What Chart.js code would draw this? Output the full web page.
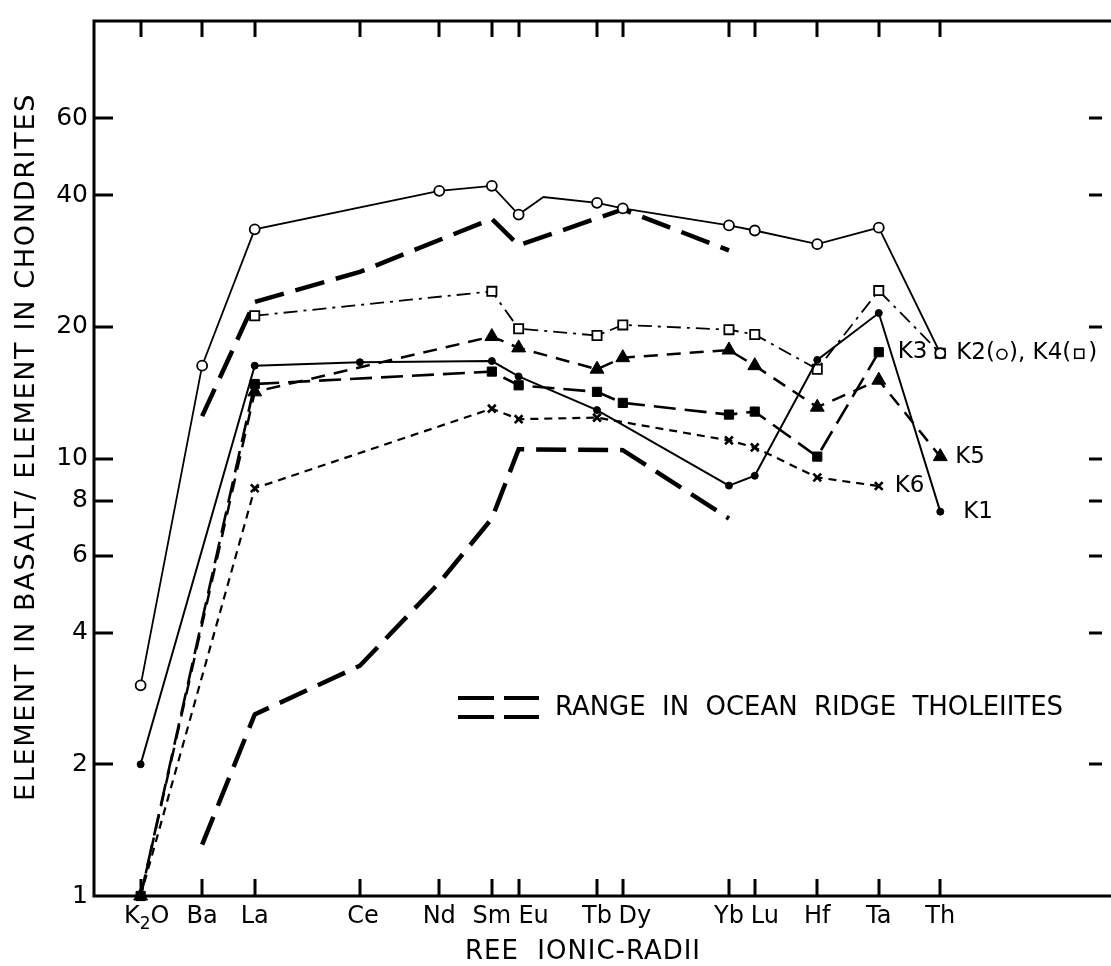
<!DOCTYPE html>
<html>
<head>
<meta charset="utf-8">
<title>REE ionic radii</title>
<script src="https://cdn.jsdelivr.net/npm/chart.js@4.4.0/dist/chart.umd.min.js"></script>
<style>
html, body { margin: 0; padding: 0; background: #fff; }
#grafik { display: block; }
</style>
</head>
<body>
<canvas id="grafik" width="1111" height="966"></canvas>
<script>
// elements in ionic-radius order and their place along the x axis
const elements = ['K2O', 'Ba', 'La', 'Ce', 'Nd', 'Sm', 'Eu', 'Gd', 'Tb', 'Dy', 'Yb', 'Lu', 'Hf', 'Ta', 'Th'];
const positions = [4.7, 10.9, 16.2, 26.8, 34.8, 40.1, 42.8, 45.3, 50.7, 53.3, 64.0, 66.6, 72.9, 79.1, 85.3];
const tickedElements = ['K2O', 'Ba', 'La', 'Ce', 'Nd', 'Sm', 'Eu', 'Tb', 'Dy', 'Yb', 'Lu', 'Hf', 'Ta', 'Th'];
const yTicks = [1, 2, 4, 6, 8, 10, 20, 40, 60];

// basalt / chondrite ratios, one slot per element (null = not measured)
const k1 = [2.0, null, 16.3, 16.6, null, 16.7, 15.4, null, 12.9, null, 8.67, 9.13, 16.8, 21.5, 7.56];
const k2 = [3.03, 16.3, 33.4, null, 40.9, 42.0, 36.1, 39.6, 38.4, 37.3, 34.1, 33.2, 30.9, 33.7, 17.4];
const k3 = [1.0, null, 14.8, null, null, 15.8, 14.7, null, 14.2, 13.4, 12.6, 12.8, 10.1, 17.5, null];
const k4 = [null, null, 21.2, null, null, 24.1, 19.8, null, 19.1, 20.2, 19.7, 19.2, 16.0, 24.2, 17.4];
const k5 = [1.0, null, 14.2, null, null, 19.0, 17.9, null, 16.0, 17.0, 17.7, 16.3, 13.1, 15.1, 10.1];
const k6 = [1.0, null, 8.55, null, null, 13.0, 12.3, null, 12.4, null, 11.0, 10.6, 9.05, 8.65, null];

// ocean ridge tholeiite envelope
const rangeHigh = [null, 12.5, 22.8, 26.7, null, 35.3, 30.7, null, null, 37.1, 29.9, null, null, null, null];
const rangeLow = [null, 1.31, 2.60, 3.36, 5.2, 7.29, 10.5, null, null, 10.45, 7.29, null, null, null, null];

const FONT = '"DejaVu Sans", sans-serif';

toPoints = (vals) => vals
	.map((v, i) => v == null ? null : { x: positions[i], y: v, el: elements[i] })
	.filter(p => p);

series = (label, vals, style) => Object.assign({
	label: label,
	data: toPoints(vals),
	borderColor: '#000',
	backgroundColor: '#000',
	pointBorderColor: '#000',
	borderWidth: 2,
	tension: 0,
	spanGaps: true,
	clip: false,
	fill: false
}, style);

// fit a string to a given width by spreading the letters
drawSpread = (ctx, text, x, y, width) => {
	ctx.letterSpacing = '0px';
	const w0 = ctx.measureText(text).width;
	const ls = (width - w0) / text.length;
	ctx.letterSpacing = ls + 'px';
	ctx.fillText(text, x, y);
	ctx.letterSpacing = '0px';
};

const labelNudge = { K2O: 6, Eu: 15, Ce: 3, Dy: 12, Lu: 10 };

const frame = {
	id: 'frame',
	afterDraw(chart) {
		const ctx = chart.ctx;
		const a = chart.chartArea;
		const xs = chart.scales.x, ys = chart.scales.y;
		ctx.save();
		ctx.strokeStyle = '#000';
		ctx.fillStyle = '#000';
		ctx.lineWidth = 3;
		ctx.lineCap = 'butt';

		// axes: left, top, bottom (right edge only carries ticks)
		ctx.beginPath();
		ctx.moveTo(a.left, a.top);
		ctx.lineTo(a.left, a.bottom + 1.5);
		ctx.moveTo(a.left - 1.5, a.top);
		ctx.lineTo(chart.width, a.top);
		ctx.moveTo(a.left - 1.5, a.bottom);
		ctx.lineTo(chart.width, a.bottom);
		ctx.stroke();

		// inward tick marks
		ctx.beginPath();
		yTicks.forEach(v => {
			if (v === 1) return;
			const py = Math.round(ys.getPixelForValue(v));
			ctx.moveTo(a.left, py);
			ctx.lineTo(a.left + 19, py);
			ctx.moveTo(a.right, py);
			ctx.lineTo(a.right - 13, py);
		});
		tickedElements.forEach(name => {
			const px = Math.round(xs.getPixelForValue(positions[elements.indexOf(name)]));
			ctx.moveTo(px, a.top);
			ctx.lineTo(px, a.top + 16);
			ctx.moveTo(px, a.bottom);
			ctx.lineTo(px, a.bottom - 17);
		});
		ctx.stroke();

		// element names under the axis
		ctx.textBaseline = 'alphabetic';
		ctx.textAlign = 'left';
		const base = a.bottom + 27;
		tickedElements.forEach(name => {
			const cx = xs.getPixelForValue(positions[elements.indexOf(name)]) + (labelNudge[name] || 0);
			if (name === 'K2O') {
				ctx.font = '24px ' + FONT;
				const wK = ctx.measureText('K').width, wO = ctx.measureText('O').width;
				ctx.font = '17px ' + FONT;
				const w2 = ctx.measureText('2').width;
				let x0 = cx - (wK + w2 + wO) / 2;
				ctx.font = '24px ' + FONT;
				ctx.fillText('K', x0, base);
				ctx.font = '17px ' + FONT;
				ctx.fillText('2', x0 + wK, base + 6);
				ctx.font = '24px ' + FONT;
				ctx.fillText('O', x0 + wK + w2, base);
			} else {
				ctx.font = '24px ' + FONT;
				ctx.textAlign = 'center';
				ctx.fillText(name, cx, base);
				ctx.textAlign = 'left';
			}
		});

		// axis titles
		ctx.textBaseline = 'middle';
		ctx.font = '26px ' + FONT;
		drawSpread(ctx, 'REE  IONIC-RADII', 465, a.bottom + 56, 236);
		ctx.save();
		ctx.translate(27, 447);
		ctx.rotate(-Math.PI / 2);
		ctx.font = '27px ' + FONT;
		drawSpread(ctx, 'ELEMENT IN BASALT/ ELEMENT IN CHONDRITES', -354, 0, 708);
		ctx.restore();

		// envelope key
		ctx.lineWidth = 4;
		ctx.beginPath();
		[698, 717].forEach(py => {
			ctx.moveTo(458, py); ctx.lineTo(494, py);
			ctx.moveTo(504, py); ctx.lineTo(539, py);
		});
		ctx.stroke();
		ctx.font = '26px ' + FONT;
		drawSpread(ctx, 'RANGE  IN  OCEAN  RIDGE  THOLEIITES', 555, 708, 508);

		// sample names beside the last point of each line
		ctx.font = '23px ' + FONT;
		const tag = (idx, dx, text) => {
			const pts = chart.getDatasetMeta(idx).data;
			const p = pts[pts.length - 1];
			ctx.fillText(text, p.x + dx, p.y);
		};
		tag(0, 23, 'K1');
		tag(2, 19, 'K3');
		tag(4, 15, 'K5');
		tag(5, 16, 'K6');

		// combined K2 / K4 label with the symbols drawn in
		const p4 = chart.getDatasetMeta(3).data;
		const last = p4[p4.length - 1];
		let tx = last.x + 16;
		const ty = last.y;
		const piece = (s) => { ctx.fillText(s, tx, ty); tx += ctx.measureText(s).width; };
		ctx.lineWidth = 1.6;
		piece('K2(');
		ctx.beginPath(); ctx.arc(tx + 7, ty + 1, 5, 0, Math.PI * 2); ctx.stroke();
		tx += 14;
		piece('), K4(');
		ctx.strokeRect(tx + 3.5, ty - 4, 9, 9);
		tx += 17;
		piece(')');
		ctx.restore();
	}
};

const ctx = document.getElementById('grafik');

new Chart(ctx, {
	type: 'line',
	data: {
		datasets: [
			series('K1', k1, { borderWidth: 2, pointStyle: 'circle', pointRadius: 3.5, pointBorderWidth: 1 }),
			series('K2', k2, {
				borderWidth: 1.8, pointStyle: 'circle', pointBackgroundColor: '#fff', pointBorderWidth: 1.8,
				pointRadius: c => (c.raw && c.raw.el === 'Gd') ? 0 : 5
			}),
			series('K3', k3, { borderWidth: 2.6, borderDash: [22, 9], pointStyle: 'rect', pointRadius: 6.5, pointBorderWidth: 1 }),
			series('K4', k4, {
				borderWidth: 1.8, borderDash: [14, 6, 3, 6], pointStyle: 'rect', pointRadius: 6.5,
				pointBackgroundColor: '#fff', pointBorderWidth: 1.8
			}),
			series('K5', k5, { borderWidth: 2.5, borderDash: [14, 9], pointStyle: 'triangle', pointRadius: 8, pointBorderWidth: 1 }),
			series('K6', k6, { borderWidth: 2.2, borderDash: [8, 6], pointStyle: 'crossRot', pointRadius: 5.5, pointBorderWidth: 2.6 }),
			series('range high', rangeHigh, { borderWidth: 4.5, borderDash: [30, 12], pointRadius: 0 }),
			series('range low', rangeLow, { borderWidth: 4.5, borderDash: [30, 12], pointRadius: 0 })
		]
	},
	options: {
		responsive: false,
		animation: false,
		devicePixelRatio: 1,
		layout: { padding: { top: 11, right: 1, left: 0, bottom: 0 } },
		plugins: { legend: { display: false }, tooltip: { enabled: false } },
		scales: {
			x: {
				type: 'linear',
				min: 0,
				max: 101.6,
				grid: { display: false },
				border: { display: false },
				ticks: { display: false },
				afterFit: s => { s.height = 70; }
			},
			y: {
				type: 'logarithmic',
				min: 1,
				max: 100,
				grid: { drawOnChartArea: false, drawTicks: false },
				border: { display: false },
				afterBuildTicks: s => { s.ticks = yTicks.map(v => ({ value: v })); },
				ticks: {
					callback: v => String(v),
					color: '#000',
					padding: 6,
					font: { size: 25, family: FONT }
				},
				afterFit: s => { s.width = 94; }
			}
		}
	},
	plugins: [frame]
});
</script>
</body>
</html>
